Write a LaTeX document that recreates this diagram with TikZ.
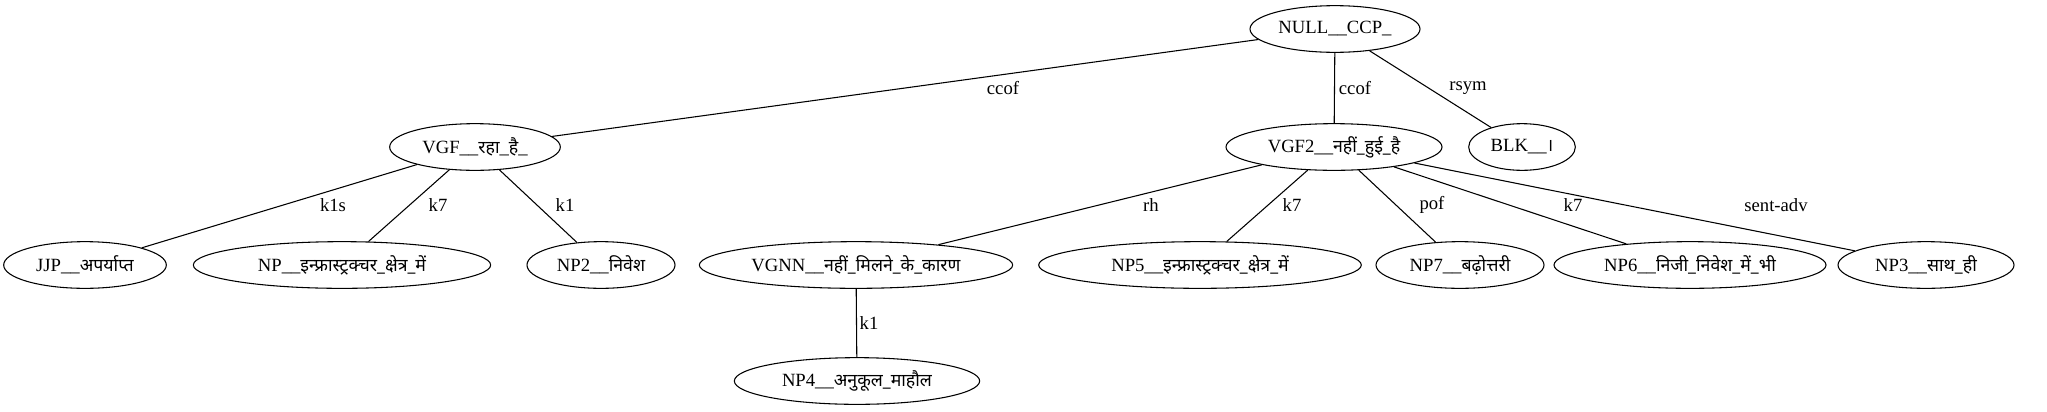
\documentclass[tikz,border=0pt]{standalone}
\usepackage{fontspec}
\setmainfont{Liberation Serif}
\newfontfamily\devfont[Script=Devanagari,Scale=0.95]{Noto Sans}
\newcommand{\dv}[1]{{\devfont #1}}
\usetikzlibrary{shapes.geometric}

\begin{document}
\begin{tikzpicture}[x=0.75pt,y=-0.75pt,
        tok/.style={ellipse,draw,line width=0.8pt,font=\fontsize{14}{16}\selectfont,
                    minimum height=35pt,minimum width=#1,
                    inner xsep=-12pt,inner ysep=0pt},
        rel/.style={font=\fontsize{14}{16}\selectfont,inner sep=1pt},
        dep/.style={draw,line width=0.8pt}
      ]
        \useasboundingbox (0,0) rectangle (2047,411);
        % top level
        \node[tok=127.5pt] (null) at (1335,29) {NULL\_\_CCP\_};
        \node[tok=128pt] (vgf)  at (475,147) {VGF\_\_\dv{रहा}\_\dv{है}\_};
        \node[tok=162pt] (vgf2) at (1334,147) {VGF2\_\_\dv{नहीं\_हुई\_है}};
        \node[tok=80pt]  (blk)  at (1522,147) {BLK\_\_\dv{।}};
        % second level
        \node[tok=122pt] (jjp)  at (85,265)   {JJP\_\_\dv{अपर्याप्त}};
        \node[tok=223pt] (np)   at (342,265)  {NP\_\_\dv{इन्फ्रास्ट्रक्चर\_क्षेत्र\_में}};
        \node[tok=111pt] (np2)  at (601,265)  {NP2\_\_\dv{निवेश}};
        \node[tok=235pt] (vgnn) at (856,265)  {VGNN\_\_\dv{नहीं\_मिलने\_के\_कारण}};
        \node[tok=242pt] (np5)  at (1200,265) {NP5\_\_\dv{इन्फ्रास्ट्रक्चर\_क्षेत्र\_में}};
        \node[tok=126pt] (np7)  at (1460,265) {NP7\_\_\dv{बढ़ोत्तरी}};
        \node[tok=204pt] (np6)  at (1690,265) {NP6\_\_\dv{निजी\_निवेश\_में\_भी}};
        \node[tok=132pt] (np3)  at (1926,265) {NP3\_\_\dv{साथ\_ही}};
        \node[tok=184pt] (np4)  at (857,381)  {NP4\_\_\dv{अनुकूल\_माहौल}};
        % relations
        \draw[dep] (null) -- (vgf);
        \draw[dep] (null) -- (vgf2);
        \draw[dep] (null) -- (blk);
        \draw[dep] (vgf) -- (jjp);
        \draw[dep] (vgf) -- (np);
        \draw[dep] (vgf) -- (np2);
        \draw[dep] (vgf2) -- (vgnn);
        \draw[dep] (vgf2) -- (np5);
        \draw[dep] (vgf2) -- (np7);
        \draw[dep] (vgf2) -- (np6);
        \draw[dep] (vgf2) -- (np3);
        \draw[dep] (vgnn) -- (np4);
        \node[rel] (r1)  at (1003,88)  {ccof};
        \node[rel] (r2)  at (1355,88)  {ccof};
        \node[rel] (r3)  at (1468,88)  {rsym};
        \node[rel] (r4)  at (333,205)  {k1s};
        \node[rel] (r5)  at (438,205)  {k7};
        \node[rel] (r6)  at (565,205)  {k1};
        \node[rel] (r7)  at (1151,205) {rh};
        \node[rel] (r8)  at (1292,205) {k7};
        \node[rel] (r9)  at (1432,205) {pof};
        \node[rel] (r10) at (1573,205) {k7};
        \node[rel] (r11) at (1776,205) {sent-adv};
        \node[rel] (r12) at (869,323)  {k1};
      \end{tikzpicture}
\end{document}
